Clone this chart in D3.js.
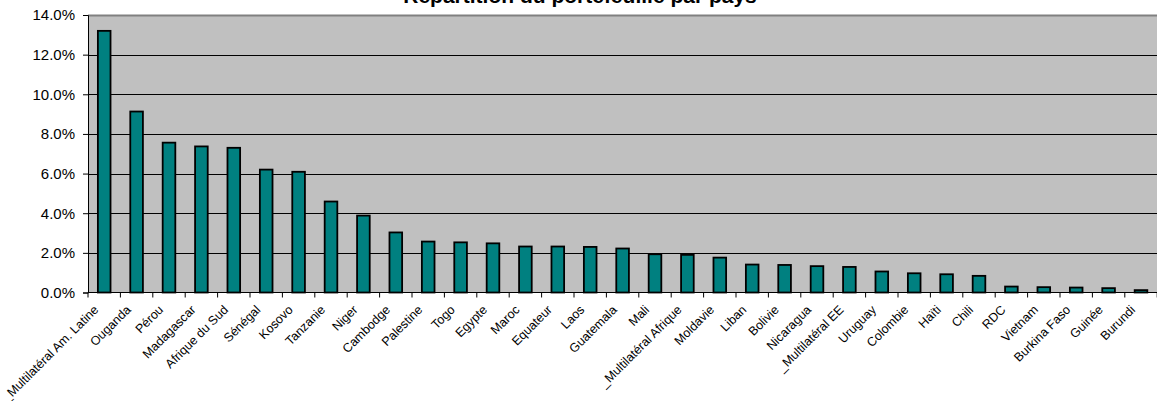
<!DOCTYPE html>
<html><head><meta charset="utf-8">
<script src="https://cdn.jsdelivr.net/npm/d3@7"></script>
<style>body{margin:0;background:#fff}svg{display:block;font-family:"Liberation Sans",Arial,sans-serif}</style>
</head><body><svg id="c" width="1157" height="401"></svg>
<script>
const categories = ["_Multilatéral Am. Latine","Ouganda","Pérou","Madagascar","Afrique du Sud","Sénégal","Kosovo","Tanzanie","Niger","Cambodge","Palestine","Togo","Egypte","Maroc","Equateur","Laos","Guatemala","Mali","_Multilatéral Afrique","Moldavie","Liban","Bolivie","Nicaragua","_Multilatéral EE","Uruguay","Colombie","Haïti","Chili","RDC","Vietnam","Burkina Faso","Guinée","Burundi"];
const values = [13.2,9.13,7.56,7.37,7.30,6.20,6.09,4.59,3.88,3.03,2.57,2.53,2.48,2.32,2.32,2.30,2.22,1.93,1.90,1.76,1.41,1.39,1.33,1.29,1.06,0.97,0.92,0.84,0.30,0.27,0.25,0.22,0.12];
const yTicks = [0,2,4,6,8,10,12,14];
const title = "Répartition du portefeuille par pays";

const svg = d3.select("#c");
const L = 88, R = 1157, T = 15, B = 292.5;
const x = d3.scaleBand().domain(categories).range([L, L + 32.4*categories.length]).paddingInner(0.61).paddingOuter(0.305);
const y = d3.scaleLinear().domain([0,14]).range([B, T]);

svg.append("rect").attr("x",L).attr("y",T).attr("width",R-L).attr("height",B-T).attr("fill","#c0c0c0");
svg.append("g").selectAll("line").data(yTicks.filter(d=>d>0&&d<14)).join("line")
  .attr("x1",L).attr("x2",R).attr("y1",d=>Math.round(y(d))+0.5).attr("y2",d=>Math.round(y(d))+0.5)
  .attr("stroke","#000").attr("stroke-width",1);
svg.append("line").attr("x1",L).attr("x2",R).attr("y1",T+0.5).attr("y2",T+0.5).attr("stroke","#808080").attr("stroke-width",2);

svg.append("g").selectAll("rect").data(values).join("rect")
  .attr("x",(d,i)=>x(categories[i])).attr("width",x.bandwidth())
  .attr("y",d=>y(d)).attr("height",d=>B-y(d))
  .attr("fill","#008080").attr("stroke","#000").attr("stroke-width",1.8);

// y axis
const ya = svg.append("g").attr("transform",`translate(${L},0)`)
  .call(d3.axisLeft(y).tickValues(yTicks).tickFormat(d=>d.toFixed(1)+"%").tickSize(5).tickPadding(8));
ya.select(".domain").attr("stroke","#000");
ya.selectAll("text").attr("font-size",15).attr("fill","#000").attr("font-family","Liberation Sans, Arial, sans-serif");

// x axis
const xStep = 32.4;
const xa = svg.append("g").attr("transform",`translate(0,${B})`);
xa.append("line").attr("x1",L).attr("x2",R).attr("stroke","#000");
xa.selectAll("line.t").data(d3.range(categories.length+1)).join("line").attr("class","t")
  .attr("x1",i=>L+i*xStep).attr("x2",i=>L+i*xStep).attr("y1",0).attr("y2",5).attr("stroke","#000");
xa.selectAll("text").data(categories).join("text")
  .attr("transform",d=>`translate(${x(d)+x.bandwidth()/2-5},${18}) rotate(-45)`)
  .attr("text-anchor","end").attr("font-size",12.5).attr("fill","#000").text(d=>d);

svg.append("text").attr("x",580).attr("y",3).attr("text-anchor","middle")
  .attr("font-weight","bold").attr("font-size",21).text(title);
</script></body></html>
